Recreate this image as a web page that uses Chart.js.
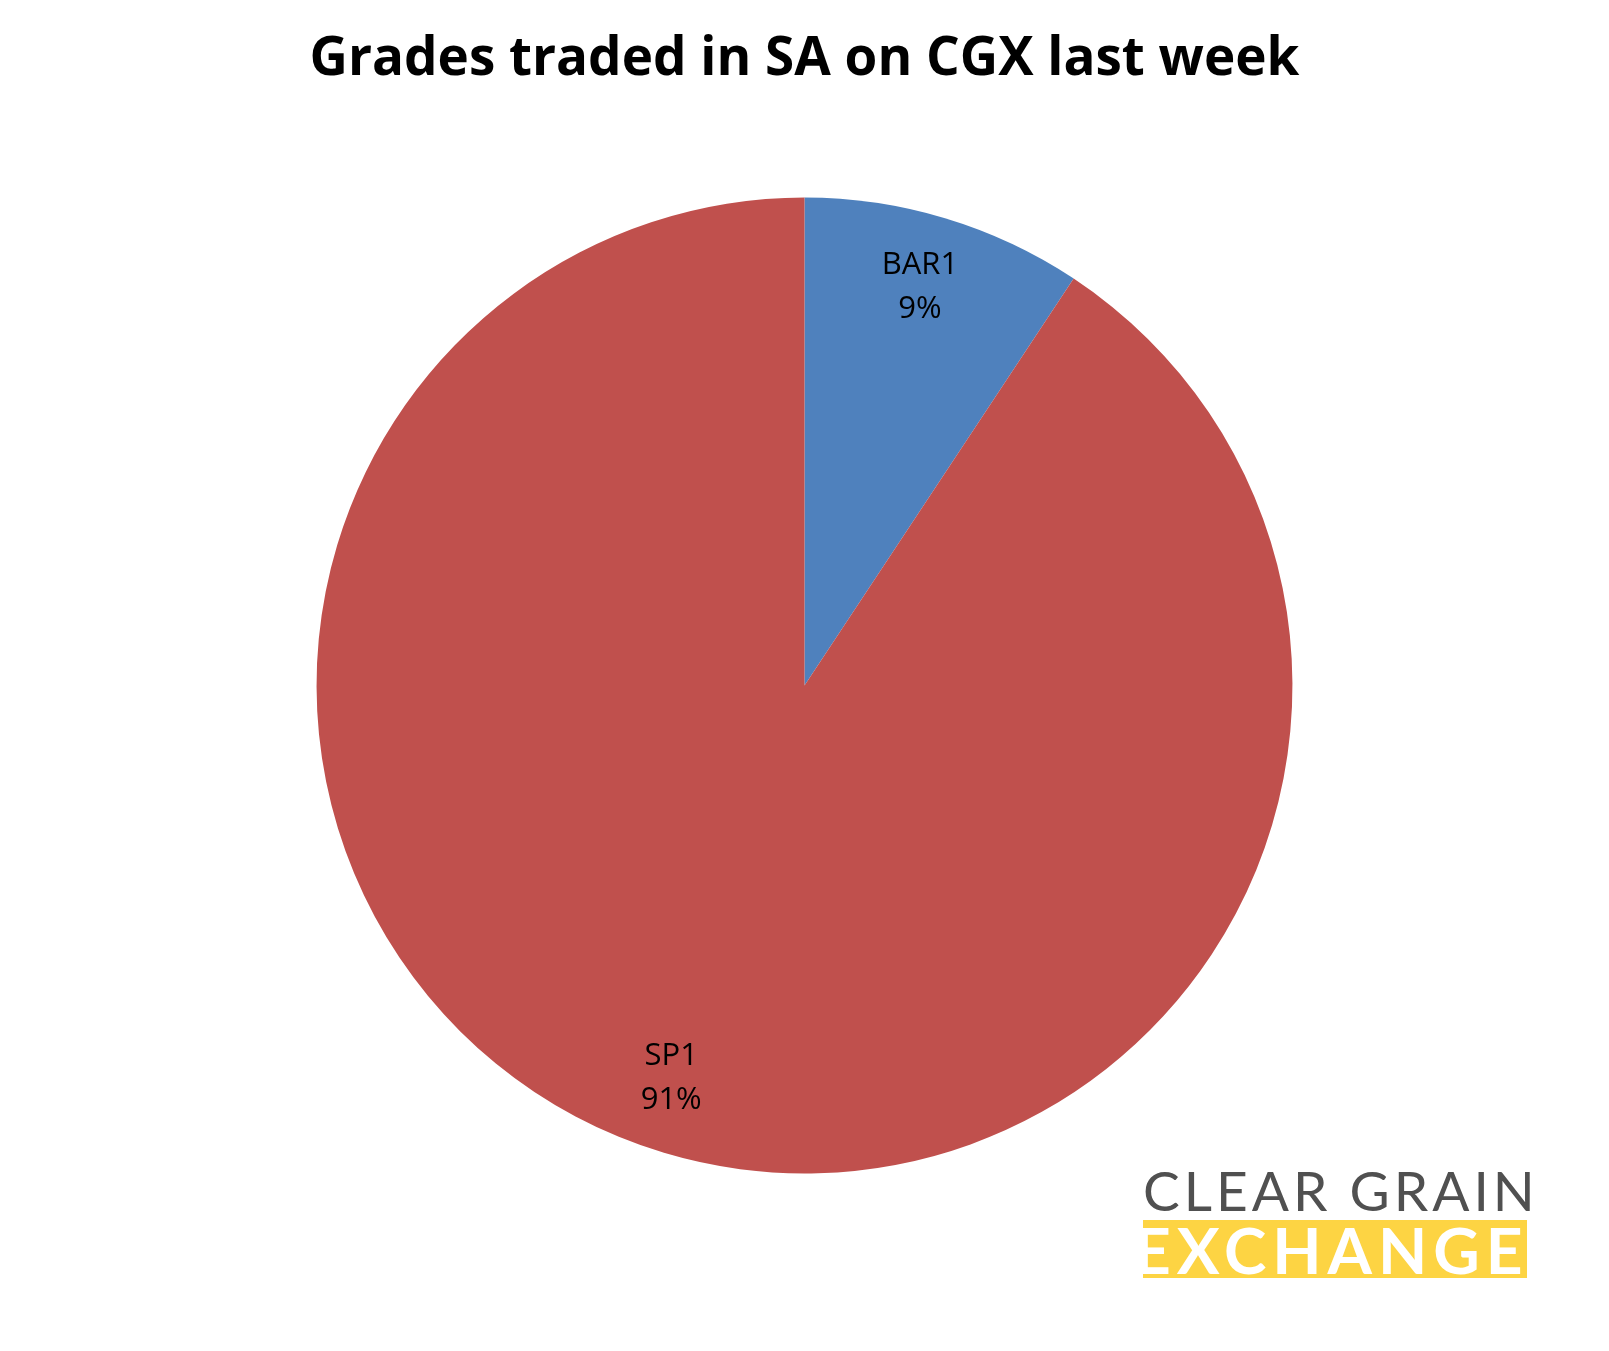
<!DOCTYPE html>
<html>
<head>
<meta charset="utf-8">
<script src="https://cdn.jsdelivr.net/npm/chart.js@4.4.0/dist/chart.umd.min.js"></script>
<style>
    body { margin: 0; background: #fff; }
    #wrap { position: relative; width: 1609px; height: 1351px; }
    #logo { position: absolute; left: 1143px; top: 1164px; width: 384px; }
    #logo .top { font-family: Lato, sans-serif; font-size: 55px; color: #505050; letter-spacing: 4px; line-height: 52px; white-space: nowrap; }
    #logo .bottom { margin-top: 4px; height: 58px; background: #fdd443; color: #fff; font-family: Lato, sans-serif; font-weight: 700; font-size: 64px; line-height: 60px; letter-spacing: 6px; white-space: nowrap; overflow: hidden; text-indent: -9px; }
</style>
</head>
<body>
<div id="wrap">
    <canvas id="grades-chart" width="1609" height="1351"></canvas>
    <div id="logo">
        <div class="top">CLEAR GRAIN</div>
        <div class="bottom">EXCHANGE</div>
    </div>
</div>
<script>
const grades = ['BAR1', 'SP1'];
const shares = [9.3, 90.7];
const shareLabels = ['9%', '91%'];
const sliceColors = ['#4f81bd', '#c0504d'];

// labels inside the slices, like Excel's data labels
const sliceLabels = {
    id: 'sliceLabels',
    afterDatasetsDraw(chart) {
        const ctx = chart.ctx;
        const meta = chart.getDatasetMeta(0);
        ctx.save();
        ctx.font = '31px "Open Sans", sans-serif';
        ctx.fillStyle = '#000';
        ctx.textAlign = 'center';
        ctx.textBaseline = 'middle';
        meta.data.forEach((arc, i) => {
            const mid = (arc.startAngle + arc.endAngle) / 2 + (i === 1 ? 0.035 : -0.01);
            const r = arc.outerRadius * 0.85;
            const x = arc.x + Math.cos(mid) * r;
            const y = arc.y + Math.sin(mid) * r;
            ctx.fillText(grades[i], x, y - 22);
            ctx.fillText(shareLabels[i], x, y + 22);
        });
        ctx.restore();
    }
};

new Chart(document.getElementById('grades-chart'), {
    type: 'pie',
    data: {
        labels: grades,
        datasets: [{
            data: shares,
            backgroundColor: sliceColors,
            borderWidth: 0,
        }],
    },
    options: {
        responsive: false,
        animation: false,
        layout: { padding: { top: 0, bottom: 177.5, left: 0, right: 0 } },
        plugins: {
            legend: { display: false },
            tooltip: { enabled: false },
            title: {
                display: true,
                text: 'Grades traded in SA on CGX last week',
                color: '#000',
                font: { family: '"Open Sans", sans-serif', size: 53, weight: 'bold', lineHeight: 1.2 },
                padding: { top: 28, bottom: 106 },
            },
        },
    },
    plugins: [sliceLabels],
});
</script>
</body>
</html>
